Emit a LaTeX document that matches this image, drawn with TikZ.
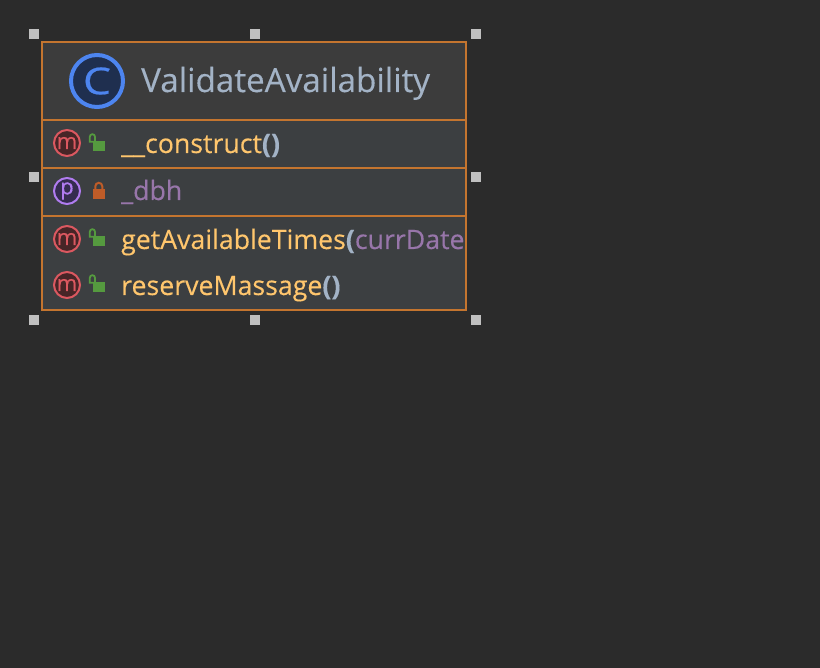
\documentclass[tikz,border=0pt]{standalone}
\usepackage{fontspec}
\setmainfont[FakeBold=0.25]{Open Sans}
\newfontfamily\iconfont[FakeBold=0.4]{Open Sans}
\newfontfamily\classfont[FakeBold=0.6,FakeStretch=1.2]{Open Sans}
\usetikzlibrary{positioning}
\definecolor{canvasbg}{HTML}{2B2B2B}
\definecolor{headbg}{HTML}{3C3C3C}
\definecolor{rowbg}{HTML}{3C3F41}
\definecolor{edgeorange}{HTML}{C4752F}
\definecolor{titlegrey}{HTML}{A3B3C6}
\definecolor{methodyellow}{HTML}{FFC66D}
\definecolor{fieldpurple}{HTML}{9876AA}
\definecolor{handlegrey}{HTML}{C0C0C0}
\definecolor{classblue}{HTML}{4D85F0}
\definecolor{classfill}{HTML}{1F2F4F}
\definecolor{methodred}{HTML}{DB5860}
\definecolor{methodfill}{HTML}{472527}
\definecolor{propviolet}{HTML}{B07CF0}
\definecolor{propfill}{HTML}{352C50}
\definecolor{lockgreen}{HTML}{559A3F}
\definecolor{lockorange}{HTML}{BF5C28}
\begin{document}
\begin{tikzpicture}[x=1pt,y=-1pt,
		handle/.style={fill=handlegrey,inner sep=0pt,minimum size=10pt},
		divider/.style={edgeorange,line width=1.6pt},
		roundicon/.style={circle,line width=2pt,inner sep=0pt,minimum size=26pt,font=\iconfont\fontsize{22}{22}\selectfont},
		methodicon/.style={roundicon,draw=methodred,fill=methodfill,text=methodred},
		propicon/.style={roundicon,draw=propviolet,fill=propfill,text=propviolet},
		classicon/.style={circle,draw=classblue,fill=classfill,text=classblue,line width=4pt,inner sep=0pt,minimum size=52pt,font=\classfont\fontsize{37}{37}\selectfont},
		membertext/.style={anchor=base west,inner sep=0pt,font=\fontsize{26.7}{26.7}\selectfont},
		lockbody/.style={inner sep=0pt,minimum width=12pt,minimum height=10pt}]
		\useasboundingbox[fill=canvasbg] (0,0) rectangle (820,668);

		\fill[headbg] (42,42) rectangle (466,120);
		\fill[rowbg] (42,120) rectangle (466,310);

		\node[classicon]										(classmark)	at (97,81)	{C};
		\node[anchor=base west,inner sep=0pt,text=titlegrey,font=\fontsize{33.2}{33.2}\selectfont]	(classname)	at (141,92)	{ValidateAvailability};

		\node[methodicon]	(construct)	at (67,143)		{m};
		\node[propicon]		(dbh)		at (67,191)		{p};
		\node[methodicon]	(gettimes)	at (67,239)		{m};
		\node[methodicon]	(reserve)	at (67,285)		{m};

		% locks
		\foreach \name/\ypos in {lockone/146,lockthree/241,lockfour/287}{
			\node[lockbody,fill=lockgreen] (\name) at (99,\ypos) {};
			\draw[lockgreen,line width=1.8pt] (\name.north west) ++(1.5,1) -- ++(-4.5,0) -- ++(0,-5) arc (180:360:2.6) -- ++(0,4);
		}
		\node[lockbody,fill=lockorange] (locktwo) at (99,194) {};
		\draw[lockorange,line width=2pt] (locktwo.north west) ++(2.5,0) -- ++(0,-2.5) arc (180:360:3.5) -- ++(0,2.5);

		\node[membertext,text=methodyellow]	(constructtext)	at (121,153)	{\_\_construct\textcolor{titlegrey}{\textbf{()}}};
		\node[membertext,text=fieldpurple]	(dbhtext)		at (121,200)	{\_dbh};
		\node[membertext,text=methodyellow]	(gettext)		at (121,249)	{getAvailableTimes\textcolor{titlegrey}{\textbf{(}}\textcolor{fieldpurple}{currDate}};
		\node[membertext,text=methodyellow]	(reservetext)	at (121,295)	{reserveMassage\textcolor{titlegrey}{\textbf{()}}};

		\draw[divider] (42,120) -- (466,120);
		\draw[divider] (42,168) -- (466,168);
		\draw[divider] (42,216) -- (466,216);
		\draw[edgeorange,line width=1.2pt] (42,42) rectangle (466,310);

		\node[handle] (h1) at (34,34)	{};
		\node[handle] (h2) at (255,34)	{};
		\node[handle] (h3) at (476,34)	{};
		\node[handle] (h4) at (34,177)	{};
		\node[handle] (h5) at (476,177)	{};
		\node[handle] (h6) at (34,320)	{};
		\node[handle] (h7) at (255,320)	{};
		\node[handle] (h8) at (476,320)	{};
	\end{tikzpicture}
\end{document}
